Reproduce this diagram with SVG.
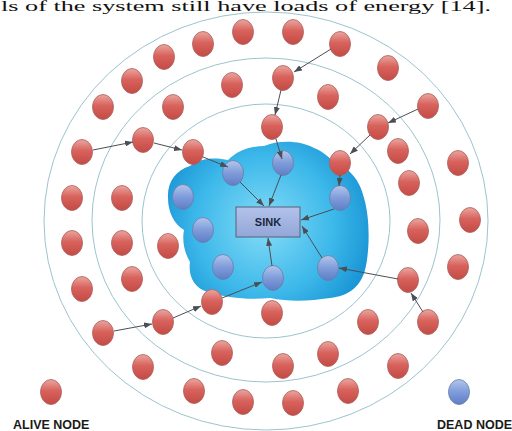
<svg xmlns="http://www.w3.org/2000/svg" width="512" height="431" viewBox="0 0 512 431">
<style>
.ring{fill:none;stroke:#9cc3cf;stroke-width:1}
.a{fill:url(#gr);stroke:#a8625e;stroke-width:0.8}
.d{fill:url(#gb);stroke:#6a7ea6;stroke-width:0.8}
.c{fill:none;stroke:#4b4f55;stroke-width:1;marker-end:url(#ah)}
.lg{font-family:"Liberation Sans",Arial,sans-serif;font-weight:bold;font-size:12.5px;fill:#1a1a1a}
</style>
<defs>
<linearGradient id="gr" x1="0" y1="0" x2="0" y2="1">
<stop offset="0" stop-color="#eba6a0"/>
<stop offset="0.45" stop-color="#d8625c"/>
<stop offset="1" stop-color="#c44a45"/>
</linearGradient>
<linearGradient id="gb" x1="0" y1="0" x2="0" y2="1">
<stop offset="0" stop-color="#b3c6ec"/>
<stop offset="0.5" stop-color="#7f9cda"/>
<stop offset="1" stop-color="#5e7ec6"/>
</linearGradient>
<radialGradient id="gc" cx="265" cy="225" r="115" gradientUnits="userSpaceOnUse">
<stop offset="0" stop-color="#86dcf7"/>
<stop offset="0.6" stop-color="#3cb8ea"/>
<stop offset="1" stop-color="#1590d2"/>
</radialGradient>
<linearGradient id="gs" x1="0" y1="0" x2="0" y2="1">
<stop offset="0" stop-color="#b2c2ea"/>
<stop offset="1" stop-color="#93a6d6"/>
</linearGradient>
<marker id="ah" markerWidth="8" markerHeight="6" refX="8" refY="3" orient="auto" markerUnits="userSpaceOnUse">
<path d="M0,0 L8,3 L0,6 z" fill="#4b4f55"/>
</marker>
</defs>
<rect width="512" height="431" fill="#ffffff"/>
<text x="1" y="11" font-family="'Liberation Serif','Times New Roman',serif" font-size="14" fill="#111" textLength="490" lengthAdjust="spacingAndGlyphs">ls of the system still have loads of energy [14].</text>
<g id="rings">
<ellipse class="ring" cx="266" cy="221" rx="222" ry="209"/>
<ellipse class="ring" cx="266" cy="220" rx="174" ry="162"/>
<ellipse class="ring" cx="266" cy="221" rx="124" ry="117"/>
</g>
<g id="dead-zone">
<path fill="url(#gc)" d="M168,198 C167,182 176,170 190,166 C200,158 215,157 228,160 C238,150 252,146 264,146 C278,140 300,140 314,148 C324,152 330,158 334,163 C348,166 360,180 364,198 C370,218 370,250 365,270 C361,285 350,296 330,298 C310,301 290,302 270,298 C250,300 225,298 208,292 C194,288 188,276 190,262 C184,252 182,240 184,230 C174,224 168,212 168,198 Z"/>
</g>
<g id="sink">
<rect x="236" y="207" width="64" height="30" fill="url(#gs)" stroke="#56607a" stroke-width="1"/>
<text x="268" y="226" text-anchor="middle" font-family="'Liberation Sans',Arial,sans-serif" font-weight="bold" font-size="11" fill="#1c2740">SINK</text>
</g>
<g id="dead-nodes">
<g id="b1"><ellipse class="d" cx="233" cy="173" rx="10.5" ry="12.5"/></g>
<g id="b2"><ellipse class="d" cx="283" cy="163" rx="10.5" ry="12.5"/></g>
<g id="b3"><ellipse class="d" cx="183" cy="197" rx="10.5" ry="12.5"/></g>
<g id="b4"><ellipse class="d" cx="340" cy="198" rx="10.5" ry="12.5"/></g>
<g id="b5"><ellipse class="d" cx="203" cy="230" rx="10.5" ry="12.5"/></g>
<g id="b6"><ellipse class="d" cx="223" cy="267" rx="10.5" ry="12.5"/></g>
<g id="b7"><ellipse class="d" cx="273" cy="278" rx="10.5" ry="12.5"/></g>
<g id="b8"><ellipse class="d" cx="328" cy="268" rx="10.5" ry="12.5"/></g>
</g>
<g id="alive-nodes">
<g id="n1"><ellipse class="a" cx="243" cy="32" rx="10.5" ry="12.5"/></g>
<g id="n2"><ellipse class="a" cx="293" cy="32" rx="10.5" ry="12.5"/></g>
<g id="n3"><ellipse class="a" cx="340" cy="44" rx="10.5" ry="12.5"/></g>
<g id="n4"><ellipse class="a" cx="203" cy="44" rx="10.5" ry="12.5"/></g>
<g id="n5"><ellipse class="a" cx="164" cy="57" rx="10.5" ry="12.5"/></g>
<g id="n6"><ellipse class="a" cx="388" cy="68" rx="10.5" ry="12.5"/></g>
<g id="n7"><ellipse class="a" cx="132" cy="81" rx="10.5" ry="12.5"/></g>
<g id="n8"><ellipse class="a" cx="232" cy="85" rx="10.5" ry="12.5"/></g>
<g id="n9"><ellipse class="a" cx="283" cy="78" rx="10.5" ry="12.5"/></g>
<g id="n10"><ellipse class="a" cx="103" cy="107" rx="10.5" ry="12.5"/></g>
<g id="n11"><ellipse class="a" cx="173" cy="107" rx="10.5" ry="12.5"/></g>
<g id="n12"><ellipse class="a" cx="328" cy="97" rx="10.5" ry="12.5"/></g>
<g id="n13"><ellipse class="a" cx="428" cy="106" rx="10.5" ry="12.5"/></g>
<g id="n14"><ellipse class="a" cx="272" cy="127" rx="10.5" ry="12.5"/></g>
<g id="n15"><ellipse class="a" cx="378" cy="127" rx="10.5" ry="12.5"/></g>
<g id="n16"><ellipse class="a" cx="143" cy="140" rx="10.5" ry="12.5"/></g>
<g id="n17"><ellipse class="a" cx="82" cy="152" rx="10.5" ry="12.5"/></g>
<g id="n18"><ellipse class="a" cx="193" cy="152" rx="10.5" ry="12.5"/></g>
<g id="n19"><ellipse class="a" cx="398" cy="151" rx="10.5" ry="12.5"/></g>
<g id="n20"><ellipse class="a" cx="458" cy="163" rx="10.5" ry="12.5"/></g>
<g id="n21"><ellipse class="a" cx="340" cy="163" rx="10.5" ry="12.5"/></g>
<g id="n22"><ellipse class="a" cx="409" cy="183" rx="10.5" ry="12.5"/></g>
<g id="n23"><ellipse class="a" cx="72" cy="198" rx="10.5" ry="12.5"/></g>
<g id="n24"><ellipse class="a" cx="122" cy="198" rx="10.5" ry="12.5"/></g>
<g id="n25"><ellipse class="a" cx="470" cy="220" rx="10.5" ry="12.5"/></g>
<g id="n26"><ellipse class="a" cx="418" cy="231" rx="10.5" ry="12.5"/></g>
<g id="n27"><ellipse class="a" cx="72" cy="243" rx="10.5" ry="12.5"/></g>
<g id="n28"><ellipse class="a" cx="122" cy="243" rx="10.5" ry="12.5"/></g>
<g id="n29"><ellipse class="a" cx="168" cy="246" rx="10.5" ry="12.5"/></g>
<g id="n30"><ellipse class="a" cx="458" cy="267" rx="10.5" ry="12.5"/></g>
<g id="n31"><ellipse class="a" cx="82" cy="289" rx="10.5" ry="12.5"/></g>
<g id="n32"><ellipse class="a" cx="132" cy="279" rx="10.5" ry="12.5"/></g>
<g id="n33"><ellipse class="a" cx="408" cy="280" rx="10.5" ry="12.5"/></g>
<g id="n34"><ellipse class="a" cx="212" cy="302" rx="10.5" ry="12.5"/></g>
<g id="n35"><ellipse class="a" cx="272" cy="313" rx="10.5" ry="12.5"/></g>
<g id="n36"><ellipse class="a" cx="368" cy="322" rx="10.5" ry="12.5"/></g>
<g id="n37"><ellipse class="a" cx="428" cy="322" rx="10.5" ry="12.5"/></g>
<g id="n38"><ellipse class="a" cx="103" cy="333" rx="10.5" ry="12.5"/></g>
<g id="n39"><ellipse class="a" cx="163" cy="322" rx="10.5" ry="12.5"/></g>
<g id="n40"><ellipse class="a" cx="222" cy="353" rx="10.5" ry="12.5"/></g>
<g id="n41"><ellipse class="a" cx="328" cy="354" rx="10.5" ry="12.5"/></g>
<g id="n42"><ellipse class="a" cx="283" cy="366" rx="10.5" ry="12.5"/></g>
<g id="n43"><ellipse class="a" cx="143" cy="367" rx="10.5" ry="12.5"/></g>
<g id="n44"><ellipse class="a" cx="398" cy="366" rx="10.5" ry="12.5"/></g>
<g id="n45"><ellipse class="a" cx="194" cy="391" rx="10.5" ry="12.5"/></g>
<g id="n46"><ellipse class="a" cx="243" cy="402" rx="10.5" ry="12.5"/></g>
<g id="n47"><ellipse class="a" cx="293" cy="403" rx="10.5" ry="12.5"/></g>
<g id="n48"><ellipse class="a" cx="348" cy="391" rx="10.5" ry="12.5"/></g>
</g>
<g id="connectors">
<line class="c" x1="93" y1="150" x2="133" y2="142"/>
<line class="c" x1="154" y1="143" x2="182" y2="150"/>
<line class="c" x1="203" y1="157" x2="228" y2="167"/>
<line class="c" x1="331" y1="49" x2="294" y2="72"/>
<line class="c" x1="281" y1="90" x2="275" y2="115"/>
<line class="c" x1="276" y1="139" x2="282" y2="159"/>
<line class="c" x1="418" y1="109" x2="388" y2="123"/>
<line class="c" x1="370" y1="135" x2="350" y2="154"/>
<line class="c" x1="340" y1="175" x2="339" y2="186"/>
<line class="c" x1="240" y1="182" x2="264" y2="206"/>
<line class="c" x1="281" y1="175" x2="269" y2="206"/>
<line class="c" x1="334" y1="209" x2="301" y2="220"/>
<line class="c" x1="322" y1="258" x2="302" y2="226"/>
<line class="c" x1="272" y1="266" x2="268" y2="238"/>
<line class="c" x1="222" y1="298" x2="262" y2="282"/>
<line class="c" x1="173" y1="318" x2="201" y2="306"/>
<line class="c" x1="114" y1="331" x2="152" y2="324"/>
<line class="c" x1="398" y1="279" x2="339" y2="268"/>
<line class="c" x1="423" y1="312" x2="411" y2="293"/>
</g>
<g id="legend-alive">
<ellipse class="a" cx="51" cy="392" rx="10.5" ry="12.5"/>
<text class="lg" x="13" y="429">ALIVE NODE</text>
</g>
<g id="legend-dead">
<ellipse class="d" cx="459" cy="392" rx="10.5" ry="12.5"/>
<text class="lg" x="437" y="429">DEAD NODE</text>
</g>
</svg>
